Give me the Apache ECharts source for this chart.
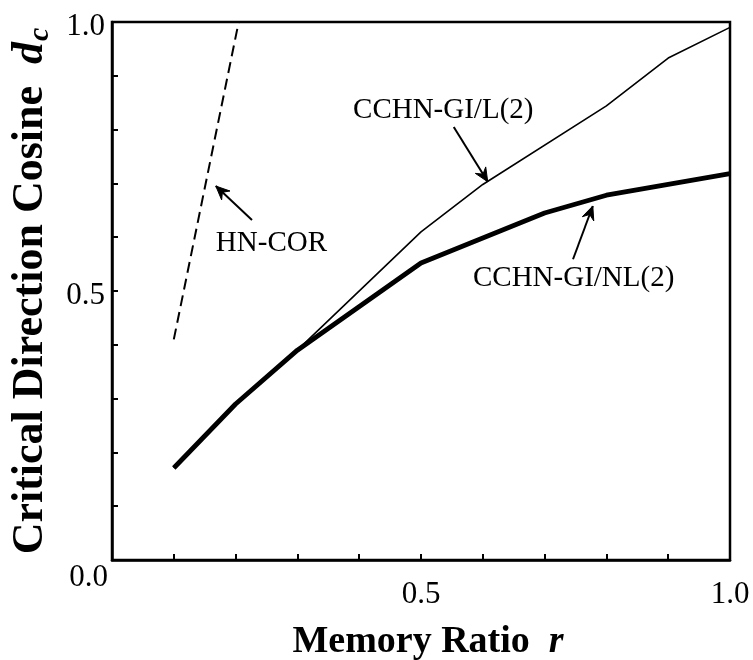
<!DOCTYPE html>
<html>
<head>
<meta charset="utf-8">
<script src="https://cdn.jsdelivr.net/npm/echarts@6/dist/echarts.min.js"></script>
<style>
  html, body { margin: 0; padding: 0; background: #fff; }
  #chart { width: 753px; height: 660px; }
</style>
</head>
<body>
<div id="chart"></div>
<script>
// Memory ratio r against critical direction cosine d_c
const rNonlinear = [0.1, 0.2, 0.3, 0.5, 0.7, 0.8, 1.0];
const dcNonlinear = [0.171, 0.29, 0.39, 0.552, 0.645, 0.678, 0.718];

const rLinear = [0.1, 0.2, 0.3, 0.5, 0.6, 0.8, 0.9, 1.0];
const dcLinear = [0.171, 0.29, 0.39, 0.61, 0.698, 0.844, 0.933, 0.99];

const rHN = [0.1, 0.205];
const dcHN = [0.41, 1.0];

const xTickValues = [0.5, 1.0];
const xTickLabels = ['0.5', '1.0'];
const yTickValues = [0.5, 1.0];
const yTickLabels = ['0.5', '1.0'];
const originLabel = '0.0';

// annotation text and arrow (tail -> head) in data coordinates
const notes = [
  { text: 'CCHN-GI/L(2)', at: [0.536, 0.836], tail: [0.553, 0.805], head: [0.608, 0.703] },
  { text: 'HN-COR', at: [0.258, 0.589], tail: [0.2265, 0.632], head: [0.168, 0.695] },
  { text: 'CCHN-GI/NL(2)', at: [0.747, 0.524], tail: [0.746, 0.559], head: [0.778, 0.658] }
];

const FONT = 'Liberation Serif';
const zip = (xs, ys) => xs.map((x, i) => [x, ys[i]]);
const labelFor = (vals, labels, wrap) => v => {
  const i = vals.findIndex(t => Math.abs(t - v) < 1e-6);
  if (i < 0) return '';
  return wrap ? '{v|' + labels[i] + '}' : labels[i];
};

const chart = echarts.init(document.getElementById('chart'), null, { renderer: 'canvas' });

const option = {
  animation: false,
  backgroundColor: '#fff',
  grid: {
    left: 112, right: 23, top: 22, bottom: 100,
    outerBoundsMode: 'none', containLabel: false,
    show: true, borderColor: '#000', borderWidth: 2.5, backgroundColor: 'transparent'
  },
  xAxis: {
    type: 'value', min: 0, max: 1, interval: 0.1,
    axisLine: { show: true, lineStyle: { color: '#000', width: 2.5 } },
    axisTick: { show: true, inside: true, length: 6, lineStyle: { color: '#000', width: 2 } },
    splitLine: { show: false },
    axisLabel: {
      formatter: labelFor(xTickValues, xTickLabels, false),
      fontFamily: FONT, fontSize: 31, color: '#000', margin: 19
    },
    name: '{b|Memory Ratio  }{i|r}',
    nameLocation: 'middle', nameGap: 63,
    nameTextStyle: {
      padding: [0, 0, 0, 14],
      rich: {
        b: { fontFamily: FONT, fontWeight: 'bold', fontSize: 38, color: '#000' },
        i: { fontFamily: FONT, fontWeight: 'bold', fontStyle: 'italic', fontSize: 38, color: '#000' }
      }
    }
  },
  yAxis: {
    type: 'value', min: 0, max: 1, interval: 0.1,
    axisLine: { show: true, lineStyle: { color: '#000', width: 2.5 } },
    axisTick: { show: true, inside: true, length: 6, lineStyle: { color: '#000', width: 2 } },
    splitLine: { show: false },
    axisLabel: {
      formatter: labelFor(yTickValues, yTickLabels, true),
      color: '#000', margin: 7,
      rich: {
        v: { fontFamily: FONT, fontSize: 31, color: '#000', padding: [10, 0, 0, 0] }
      }
    },
    name: '{b|Critical Direction Cosine  }{i|d}{s|c}',
    nameLocation: 'middle', nameRotate: 90, nameGap: 55,
    nameTextStyle: {
      rich: {
        b: { fontFamily: FONT, fontWeight: 'bold', fontSize: 44, color: '#000' },
        i: { fontFamily: FONT, fontWeight: 'bold', fontStyle: 'italic', fontSize: 44, color: '#000' },
        s: { fontFamily: FONT, fontWeight: 'bold', fontStyle: 'italic', fontSize: 30, color: '#000',
             padding: [20, 0, 0, 1] }
      }
    }
  },
  series: [
    {
      name: 'HN-COR', type: 'line', data: zip(rHN, dcHN), symbol: 'none',
      lineStyle: { color: '#000', width: 2, type: [11, 6] }
    },
    {
      name: 'CCHN-GI/L(2)', type: 'line', data: zip(rLinear, dcLinear), symbol: 'none',
      lineStyle: { color: '#000', width: 1.6 }
    },
    {
      name: 'CCHN-GI/NL(2)', type: 'line', data: zip(rNonlinear, dcNonlinear), symbol: 'none',
      lineStyle: { color: '#000', width: 4.8 }
    }
  ]
};

chart.setOption(option);

// annotations, placed through the axes' own scales
function buildGraphics() {
  const els = [];
  const toPx = p => chart.convertToPixel({ gridIndex: 0 }, p);
  notes.forEach(n => {
    const c = toPx(n.at);
    const a = toPx(n.tail);
    const b = toPx(n.head);
    els.push({
      type: 'text', x: c[0], y: c[1],
      style: { text: n.text, fontFamily: FONT, fontSize: 29, fill: '#000', align: 'center', verticalAlign: 'middle' }
    });
    els.push({
      type: 'line', shape: { x1: a[0], y1: a[1], x2: b[0], y2: b[1] },
      style: { stroke: '#000', lineWidth: 2 }
    });
    const ang = Math.atan2(b[1] - a[1], b[0] - a[0]);
    const len = 15, spread = 0.42;
    const p1 = [b[0] - len * Math.cos(ang - spread), b[1] - len * Math.sin(ang - spread)];
    const p2 = [b[0] - len * Math.cos(ang + spread), b[1] - len * Math.sin(ang + spread)];
    const m = [b[0] - 9 * Math.cos(ang), b[1] - 9 * Math.sin(ang)];
    els.push({
      type: 'polygon', shape: { points: [p1, b, p2, m] },
      style: { fill: '#000', stroke: '#000', lineWidth: 1 }
    });
  });
  const o = toPx([0, 0]);
  els.push({
    type: 'text', x: o[0] - 4, y: o[1] + 18,
    style: { text: originLabel, fontFamily: FONT, fontSize: 31, fill: '#000', align: 'right', verticalAlign: 'middle' }
  });
  return els;
}

chart.setOption({ graphic: buildGraphics() });
</script>
</body>
</html>
